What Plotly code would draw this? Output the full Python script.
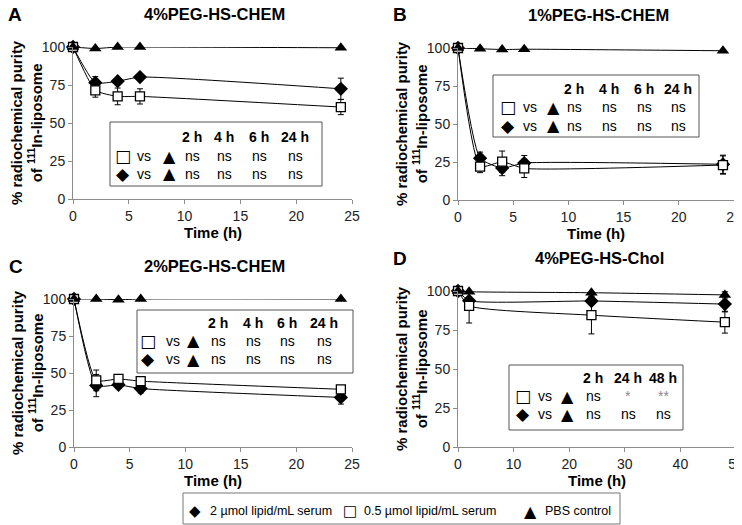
import plotly.graph_objects as go

W, H = 742, 525
OFF = 8  # page body margin offset of the figure inside the browser window

# ---------------- data ----------------
time_chem = [0, 2, 4, 6, 24]
time_chol = [0, 2, 24, 48]

# Panel A: 4%PEG-HS-CHEM
a_diamond = [100, 76.5, 77.5, 80.2, 72.5]
a_diamond_err = [0, 4, 0, 0, 7]
a_square = [100, 71.5, 67.5, 67.5, 60.5]
a_square_err = [0, 4.5, 5.5, 5, 5]
a_triangle = [100, 99, 100, 100, 99.5]
a_triangle_err = [0, 1, 0, 0, 0]

# Panel B: 1%PEG-HS-CHEM
b_diamond = [100, 27.5, 21, 24.3, 23.5]
b_diamond_err = [0, 4, 5, 5, 6]
b_square = [100, 22, 25.2, 20.8, 23]
b_square_err = [0, 4, 7, 6, 6]
b_triangle = [100, 99.5, 99, 99.2, 98.2]
b_triangle_err = [0, 0, 0, 0, 0]

# Panel C: 2%PEG-HS-CHEM
c_diamond = [100, 41.5, 42, 39.5, 33.5]
c_diamond_err = [0, 7.5, 2.5, 3, 4.5]
c_square = [100, 45, 46, 44.5, 39]
c_square_err = [0, 7, 3, 2, 2]
c_triangle = [100, 100, 99.5, 100, 100]
c_triangle_err = [0, 0, 0, 0, 0]

# Panel D: 4%PEG-HS-Chol
d_diamond = [100, 93.8, 93.6, 91.6]
d_diamond_err = [0, 0, 2, 5]
d_square = [100, 90.5, 84.5, 80]
d_square_err = [0, 11, 12, 7]
d_triangle = [100, 99.5, 98.9, 97.5]
d_triangle_err = [0, 0, 2, 2]

y_ticks = [0, 25, 50, 75, 100]
x_ticks_chem = [0, 5, 10, 15, 20, 25]
x_ticks_chol = [0, 10, 20, 30, 40, 50]

titles = ["4%PEG-HS-CHEM", "1%PEG-HS-CHEM", "2%PEG-HS-CHEM", "4%PEG-HS-Chol"]
letters = ["A", "B", "C", "D"]
legend_names = ["2 µmol lipid/mL serum", "0.5 µmol lipid/mL serum", "PBS control"]

hdr_chem = ["2 h", "4 h", "6 h", "24 h"]
hdr_chol = ["2 h", "24 h", "48 h"]
sig_a = [["ns", "ns", "ns", "ns"], ["ns", "ns", "ns", "ns"]]
sig_b = [["ns", "ns", "ns", "ns"], ["ns", "ns", "ns", "ns"]]
sig_c = [["ns", "ns", "ns", "ns"], ["ns", "ns", "ns", "ns"]]
sig_d = [["ns", "*", "**"], ["ns", "ns", "ns"]]

# ---------------- layout helpers ----------------
def fx(px):
    return (px - OFF) / W

def fy(py):
    return 1 - (py - OFF) / H

FONT = "Arial, Liberation Sans, Helvetica, sans-serif"
SYM = "DejaVu Sans"

# panel geometry in window pixels
panels = [
    dict(x0=73, x1=352, ytop=47, ybot=199, xr=[0, 25], xt=x_ticks_chem, t=time_chem,
         d=(a_diamond, a_diamond_err), s=(a_square, a_square_err), tr=(a_triangle, a_triangle_err),
         box=(110, 122, 322, 186), hdr=hdr_chem, sig=sig_a,
         cols=[123, 144, 169], hcols=[192, 224, 259, 295], rows=[137, 156, 174]),
    dict(x0=458, x1=734, ytop=48, ybot=200, xr=[0, 25], xt=x_ticks_chem, t=time_chem,
         d=(b_diamond, b_diamond_err), s=(b_square, b_square_err), tr=(b_triangle, b_triangle_err),
         box=(493, 75, 699, 137), hdr=hdr_chem, sig=sig_b,
         cols=[508, 530, 553], hcols=[574, 609, 644, 678], rows=[89, 107, 126]),
    dict(x0=74, x1=352, ytop=299, ybot=447, xr=[0, 25], xt=x_ticks_chem, t=time_chem,
         d=(c_diamond, c_diamond_err), s=(c_square, c_square_err), tr=(c_triangle, c_triangle_err),
         box=(137, 310, 353, 373), hdr=hdr_chem, sig=sig_c,
         cols=[148, 173, 193], hcols=[218, 253, 287, 324], rows=[323, 341, 359]),
    dict(x0=458, x1=736, ytop=291, ybot=447, xr=[0, 50], xt=x_ticks_chol, t=time_chol,
         d=(d_diamond, d_diamond_err), s=(d_square, d_square_err), tr=(d_triangle, d_triangle_err),
         box=(509, 365, 683, 430), hdr=hdr_chol, sig=sig_d,
         cols=[523, 545, 567], hcols=[593, 628, 663], rows=[378, 396, 414]),
]

fig = go.Figure()
annotations = []
shapes = []


def txt(xp, yp, text, size, color="black", family=FONT, xanchor="center", angle=0):
    annotations.append(dict(x=fx(xp), y=fy(yp), text=text, showarrow=False,
                            xref="paper", yref="paper", xanchor=xanchor, yanchor="middle",
                            textangle=angle, font=dict(family=family, size=size, color=color)))


def err(e):
    return dict(type="data", array=e, visible=True, color="black", thickness=1, width=3)


for i, p in enumerate(panels):
    k = "" if i == 0 else str(i + 1)
    xa, ya = "x" + k, "y" + k
    common = dict(x=p["t"], xaxis=xa, yaxis=ya, mode="lines+markers", showlegend=False,
                  cliponaxis=False,
                  line=dict(color="black", width=1, shape="spline", smoothing=0.5))

    fig.add_trace(go.Scatter(y=p["d"][0], error_y=err(p["d"][1]), name=legend_names[0],
                             marker=dict(symbol="diamond", size=11, color="black"), **common))
    fig.add_trace(go.Scatter(y=p["s"][0], error_y=err(p["s"][1]), name=legend_names[1],
                             marker=dict(symbol="square", size=9, color="white",
                                         line=dict(color="black", width=1.3)), **common))
    fig.add_trace(go.Scatter(y=p["tr"][0], error_y=err(p["tr"][1]), name=legend_names[2],
                             marker=dict(symbol="triangle-up", size=11, color="black"), **common))

    axis_common = dict(showgrid=False, zeroline=False, showline=True, linecolor="#8c8c8c",
                       linewidth=1, ticks="outside", ticklen=4, tickcolor="#8c8c8c",
                       automargin=False,
                       tickfont=dict(family=FONT, size=14, color="#222"))
    fig.update_layout(**{
        ("xaxis" + k): dict(domain=[fx(p["x0"]), fx(p["x1"])], range=p["xr"], tickvals=p["xt"],
                            anchor=ya, **axis_common),
        ("yaxis" + k): dict(domain=[fy(p["ybot"]), fy(p["ytop"])], range=[0, 100], tickvals=y_ticks,
                            anchor=xa, **axis_common),
    })

    xmid = (p["x0"] + p["x1"]) / 2
    ymid = (p["ytop"] + p["ybot"]) / 2
    txt(xmid + 2, p["ytop"] - 33, "<b>%s</b>" % titles[i], 16.5)
    txt(p["x0"] - 67, p["ytop"] - 33, "<b>%s</b>" % letters[i], 19, xanchor="left")
    txt(p["x0"] - 47, ymid, "<b>% radiochemical purity<br>of <sup>111</sup>In-liposome</b>", 15, angle=-90)
    txt(xmid, p["ybot"] + 33, "<b>Time (h)</b>", 15)

    # inset significance table
    bx0, by0, bx1, by1 = p["box"]
    shapes.append(dict(type="rect", xref="paper", yref="paper", x0=fx(bx0), x1=fx(bx1),
                       y0=fy(by1), y1=fy(by0), line=dict(color="#555", width=1),
                       fillcolor="white", layer="above"))
    for h, cx in zip(p["hdr"], p["hcols"]):
        txt(cx, p["rows"][0], "<b>%s</b>" % h, 14)
    row_syms = ["□", "◆"]
    for r in range(2):
        yy = p["rows"][r + 1]
        txt(p["cols"][0], yy, row_syms[r], 17, family=SYM)
        txt(p["cols"][1], yy, "vs", 14)
        txt(p["cols"][2], yy, "▲", 16, family=SYM)
        for s, cx in zip(p["sig"][r], p["hcols"]):
            col = "#8a8a8a" if "*" in s else "black"
            txt(cx, yy, s, 14, color=col)

# bottom legend (manual box)
shapes.append(dict(type="rect", xref="paper", yref="paper", x0=fx(183), x1=fx(620),
                   y0=fy(524), y1=fy(493), line=dict(color="#777", width=1), fillcolor="white"))
leg_syms = ["◆", "□", "▲"]
leg_sizes = [15, 15, 16]
leg_sym_x = [195, 350, 530]
leg_txt_x = [208, 362, 543]
for s, sz, sx, tx, name in zip(leg_syms, leg_sizes, leg_sym_x, leg_txt_x, legend_names):
    txt(sx, 511, s, sz, family=SYM)
    txt(tx, 511, name, 12.5, xanchor="left")

fig.update_layout(width=W, height=H, margin=dict(l=0, r=0, t=0, b=0, pad=0),
                  paper_bgcolor="white", plot_bgcolor="white",
                  annotations=annotations, shapes=shapes, showlegend=False,
                  font=dict(family=FONT))

fig.write_html("out.html")
